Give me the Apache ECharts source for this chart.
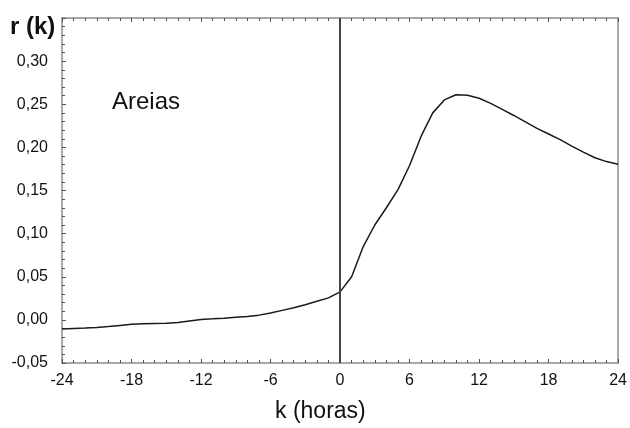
<!DOCTYPE html>
<html>
<head>
<meta charset="utf-8">
<script src="https://cdn.jsdelivr.net/npm/echarts@6/dist/echarts.min.js"></script>
<style>
  html, body { margin: 0; padding: 0; background: #fff; overflow: hidden; }
  #chart { width: 630px; height: 428px; }
</style>
</head>
<body>
<div id="chart"></div>
<script>
// Cross-correlation r(k) by lag k (hours)
const lags = [
  -24, -23, -22, -21, -20, -19, -18, -17, -16, -15, -14, -13, -12,
  -11, -10, -9, -8, -7, -6, -5, -4, -3, -2, -1, 0,
  1, 2, 3, 4, 5, 6, 7, 8, 9, 10, 11, 12,
  13, 14, 15, 16, 17, 18, 19, 20, 21, 22, 23, 24
];
const rValues = [
  -0.0105, -0.0100, -0.0095, -0.0088, -0.0078, -0.0065, -0.0052, -0.0045, -0.0042, -0.0040, -0.0030, -0.0012, 0.0005,
  0.0012, 0.0020, 0.0030, 0.0040, 0.0055, 0.0080, 0.0110, 0.0140, 0.0175, 0.0215, 0.0255, 0.0325,
  0.0500, 0.0850, 0.1100, 0.1300, 0.1510, 0.1790, 0.2130, 0.2400, 0.2550, 0.2610, 0.2605, 0.2570,
  0.2510, 0.2440, 0.2370, 0.2295, 0.2220, 0.2155, 0.2090, 0.2015, 0.1945, 0.1880, 0.1835, 0.1805
];
const xTicks = { min: -24, max: 24, step: 6 };
const yTicks = { min: -0.05, max: 0.35, step: 0.05 };
const seriesName = 'Areias';
const xTitle = 'k (horas)';
const yTitle = 'r (k)';

const FONT = '"Liberation Sans", Arial, sans-serif';
const frameColor = '#8c8c8c';
const tickColor = '#555';

const points = lags.map((k, i) => [k, rValues[i]]);

const chart = echarts.init(document.getElementById('chart'), null, { renderer: 'canvas', width: 630, height: 428 });

chart.setOption({
  animation: false,
  backgroundColor: '#fff',
  grid: { left: 62, right: 7, top: 18, bottom: 65, containLabel: false },
  xAxis: [
    {
      type: 'value', position: 'bottom',
      min: xTicks.min, max: xTicks.max, interval: xTicks.step,
      axisLine: { show: true, onZero: false, lineStyle: { color: frameColor, width: 1.5 } },
      axisTick: { show: true, inside: true, length: 4, lineStyle: { color: tickColor } },
      minorTick: { show: true, splitNumber: 6, length: 3, lineStyle: { color: tickColor } },
      splitLine: { show: false },
      axisLabel: {
        margin: 10, color: '#111', fontFamily: FONT, fontSize: 16,
        formatter: v => String(Math.round(v))
      }
    },
    {
      type: 'value', position: 'top',
      min: xTicks.min, max: xTicks.max, interval: xTicks.step,
      axisLine: { show: true, onZero: false, lineStyle: { color: frameColor, width: 1.5 } },
      axisTick: { show: true, inside: true, length: 4, lineStyle: { color: tickColor } },
      minorTick: { show: true, splitNumber: 6, length: 3, lineStyle: { color: tickColor } },
      splitLine: { show: false },
      axisLabel: { show: false }
    }
  ],
  yAxis: [
    {
      type: 'value', position: 'left',
      min: yTicks.min, max: yTicks.max, interval: yTicks.step,
      axisLine: { show: true, onZero: false, lineStyle: { color: frameColor, width: 1.5 } },
      axisTick: { show: true, inside: true, length: 4, lineStyle: { color: tickColor } },
      minorTick: { show: true, splitNumber: 5, length: 3, lineStyle: { color: tickColor } },
      splitLine: { show: false },
      axisLabel: {
        margin: 14, color: '#111', fontFamily: FONT, fontSize: 16,
        formatter: v => Math.abs(v - yTicks.max) < 1e-9 ? '' : v.toFixed(2).replace('.', ',')
      }
    },
    {
      type: 'value', position: 'right',
      min: yTicks.min, max: yTicks.max, interval: yTicks.step,
      axisLine: { show: true, onZero: false, lineStyle: { color: frameColor, width: 1.5 } },
      axisTick: { show: false },
      splitLine: { show: false },
      axisLabel: { show: false }
    }
  ],
  series: [
    {
      name: seriesName,
      type: 'line',
      data: points,
      showSymbol: false,
      smooth: false,
      lineStyle: { color: '#1a1a1a', width: 1.5 },
      markLine: {
        silent: true,
        symbol: ['none', 'none'],
        label: { show: false },
        lineStyle: { color: '#444', width: 2, type: 'solid' },
        data: [{ xAxis: 0 }]
      }
    }
  ],
  graphic: [
    {
      type: 'text', left: 10, top: 15,
      style: { text: yTitle, fill: '#111', font: 'bold 24px ' + FONT }
    },
    {
      type: 'text', left: 112, top: 90,
      style: { text: seriesName, fill: '#111', font: '24px ' + FONT }
    },
    {
      type: 'text', left: 275, top: 400,
      style: { text: xTitle, fill: '#111', font: '23px ' + FONT }
    }
  ]
});
</script>
</body>
</html>
